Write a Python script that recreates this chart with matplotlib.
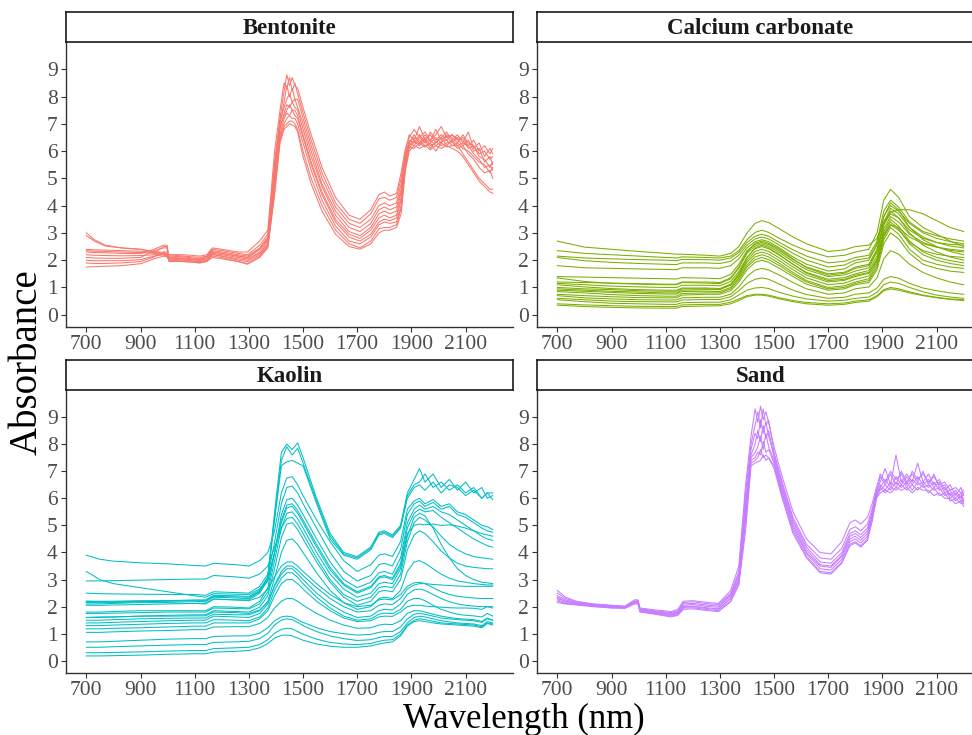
import numpy as np
import matplotlib
matplotlib.use("Agg")
import matplotlib.pyplot as plt

plt.rcParams['font.family'] = ['Liberation Serif', 'DejaVu Serif']

panels = ["Bentonite", "Calcium carbonate", "Kaolin", "Sand"]
colors = ["#F8766D", "#7CAE00", "#00BFC4", "#C77CFF"]
x_ticks = [700, 900, 1100, 1300, 1500, 1700, 1900, 2100]
y_ticks = [0, 1, 2, 3, 4, 5, 6, 7, 8, 9]

# Bentonite et Sand : une ligne par longueur d'onde, une colonne par spectre
wl_bent = [700, 730, 770, 830, 900, 950, 985, 998, 1005, 1060,
           1120, 1145, 1165, 1200, 1260, 1295, 1340, 1370, 1395, 1415,
           1430, 1440, 1450, 1460, 1470, 1480, 1500, 1530, 1570, 1620,
           1670, 1710, 1750, 1780, 1800, 1820, 1845, 1862, 1878, 1892,
           1910, 1930, 1950, 1970, 1990, 2010, 2030, 2050, 2070, 2090,
           2110, 2130, 2150, 2170, 2190, 2200]

bent_abs = [
    [3.0, 2.9, 2.4, 2.35, 2.3, 2.2, 2.1, 2.0, 1.9, 1.75],      # 700
    [2.75, 2.7, 2.38, 2.33, 2.28, 2.18, 2.08, 1.98, 1.88, 1.76],
    [2.55, 2.52, 2.37, 2.32, 2.27, 2.17, 2.07, 1.98, 1.88, 1.78],
    [2.45, 2.45, 2.35, 2.3, 2.25, 2.16, 2.07, 1.98, 1.9, 1.8],
    [2.4, 2.4, 2.33, 2.28, 2.24, 2.17, 2.1, 2.02, 1.95, 1.87],  # 900
    [2.3, 2.32, 2.28, 2.25, 2.4, 2.2, 2.35, 2.15, 2.12, 2.05],
    [2.25, 2.28, 2.5, 2.22, 2.55, 2.2, 2.45, 2.2, 2.3, 2.15],
    [2.22, 2.25, 2.5, 2.2, 2.55, 2.18, 2.45, 2.15, 2.3, 2.12],
    [2.2, 2.2, 2.05, 2.15, 2.1, 2.1, 2.0, 2.05, 1.95, 2.0],
    [2.15, 2.2, 2.05, 2.12, 2.05, 2.08, 2.0, 2.0, 1.95, 1.95],
    [2.1, 2.15, 2.0, 2.05, 2.0, 2.02, 1.95, 1.95, 1.9, 1.9],    # 1120
    [2.15, 2.2, 2.1, 2.15, 2.05, 2.1, 2.0, 2.0, 1.98, 1.95],
    [2.35, 2.45, 2.3, 2.4, 2.25, 2.3, 2.2, 2.22, 2.15, 2.1],
    [2.3, 2.4, 2.25, 2.35, 2.2, 2.25, 2.15, 2.15, 2.1, 2.05],
    [2.2, 2.3, 2.15, 2.25, 2.1, 2.15, 2.05, 2.0, 1.95, 1.95],
    [2.15, 2.3, 2.1, 2.2, 2.05, 2.1, 2.0, 1.95, 1.88, 1.85],
    [2.45, 2.7, 2.4, 2.55, 2.3, 2.4, 2.25, 2.2, 2.15, 2.1],
    [2.85, 3.1, 2.8, 2.95, 2.7, 2.75, 2.6, 2.55, 2.5, 2.45],
    [5.6, 6.0, 5.3, 5.5, 5.0, 5.1, 4.8, 4.6, 4.5, 4.4],
    [7.2, 7.5, 7.0, 7.1, 6.8, 6.9, 6.6, 6.5, 6.4, 6.3],        # 1415
    [8.2, 8.5, 7.8, 7.6, 7.4, 7.3, 7.2, 7.0, 6.9, 6.8],
    [8.8, 8.3, 8.4, 7.9, 7.7, 7.5, 7.4, 7.2, 7.0, 6.9],
    [8.4, 8.7, 8.0, 8.1, 7.6, 7.7, 7.3, 7.3, 7.1, 7.0],
    [8.7, 8.2, 8.3, 7.8, 7.8, 7.5, 7.5, 7.2, 7.1, 6.95],
    [8.4, 8.5, 7.9, 7.9, 7.6, 7.5, 7.3, 7.2, 7.0, 6.9],
    [8.3, 8.1, 7.9, 7.6, 7.5, 7.3, 7.2, 7.0, 6.8, 6.7],
    [7.6, 7.4, 7.2, 7.0, 6.8, 6.6, 6.5, 6.3, 6.0, 5.8],        # 1500
    [6.6, 6.4, 6.2, 6.0, 5.8, 5.6, 5.5, 5.3, 5.0, 4.8],
    [5.4, 5.2, 5.0, 4.8, 4.7, 4.5, 4.4, 4.2, 4.0, 3.8],
    [4.3, 4.1, 3.95, 3.8, 3.65, 3.5, 3.4, 3.25, 3.1, 2.95],
    [3.65, 3.5, 3.35, 3.2, 3.05, 2.95, 2.85, 2.7, 2.6, 2.5],
    [3.5, 3.35, 3.2, 3.05, 2.9, 2.8, 2.7, 2.6, 2.45, 2.4],     # 1710
    [3.85, 3.7, 3.5, 3.35, 3.2, 3.1, 2.95, 2.85, 2.7, 2.6],
    [4.4, 4.25, 4.0, 3.85, 3.7, 3.55, 3.4, 3.3, 3.15, 3.0],
    [4.5, 4.3, 4.1, 3.95, 3.8, 3.65, 3.5, 3.4, 3.2, 3.1],
    [4.35, 4.2, 4.0, 3.85, 3.7, 3.55, 3.45, 3.35, 3.2, 3.1],
    [4.45, 4.3, 4.1, 3.95, 3.8, 3.65, 3.55, 3.4, 3.3, 3.2],
    [5.2, 5.0, 4.8, 4.6, 4.5, 4.3, 4.2, 4.0, 3.9, 3.7],
    [6.1, 6.0, 5.9, 5.8, 5.8, 5.7, 5.6, 5.5, 5.4, 5.3],
    [6.5, 6.6, 6.3, 6.4, 6.3, 6.2, 6.3, 6.1, 6.15, 6.0],
    [6.8, 6.4, 6.6, 6.3, 6.5, 6.4, 6.2, 6.35, 6.1, 6.2],       # 1910
    [6.5, 6.9, 6.3, 6.6, 6.4, 6.25, 6.5, 6.2, 6.3, 6.1],
    [6.7, 6.4, 6.6, 6.3, 6.2, 6.5, 6.3, 6.4, 6.15, 6.2],
    [6.4, 6.6, 6.35, 6.7, 6.3, 6.2, 6.4, 6.1, 6.3, 6.05],
    [6.6, 6.3, 6.8, 6.4, 6.5, 6.3, 6.2, 6.35, 6.0, 6.2],
    [6.9, 6.5, 6.4, 6.6, 6.3, 6.5, 6.35, 6.2, 6.3, 6.1],
    [6.5, 6.7, 6.6, 6.4, 6.55, 6.2, 6.4, 6.3, 6.15, 6.2],
    [6.6, 6.4, 6.5, 6.6, 6.3, 6.4, 6.2, 6.35, 6.2, 6.1],
    [6.4, 6.6, 6.3, 6.45, 6.5, 6.2, 6.3, 6.1, 6.2, 6.0],
    [6.5, 6.3, 6.6, 6.2, 6.4, 6.3, 6.1, 6.2, 5.9, 5.8],
    [6.2, 6.7, 6.3, 6.4, 6.1, 6.2, 6.0, 5.9, 5.6, 5.5],        # 2110
    [6.4, 6.1, 6.2, 6.0, 6.2, 5.9, 5.8, 5.7, 5.3, 5.2],
    [6.0, 6.3, 5.9, 6.1, 5.8, 5.7, 5.6, 5.4, 5.0, 4.9],
    [6.2, 5.8, 6.0, 5.6, 5.7, 5.4, 5.5, 5.2, 4.8, 4.7],
    [5.9, 6.1, 5.7, 5.8, 5.4, 5.5, 5.2, 5.3, 4.6, 4.5],
    [6.1, 5.9, 5.8, 5.5, 5.6, 5.3, 5.4, 5.0, 4.6, 4.45],       # 2200
]

sand_abs = [
    [2.6, 2.5, 2.4, 2.35, 2.3, 2.25, 2.2, 2.15],     # 700
    [2.35, 2.3, 2.25, 2.2, 2.2, 2.15, 2.12, 2.1],
    [2.2, 2.18, 2.15, 2.12, 2.12, 2.1, 2.08, 2.06],
    [2.1, 2.1, 2.08, 2.06, 2.05, 2.04, 2.02, 2.0],
    [2.05, 2.04, 2.02, 2.0, 2.0, 1.98, 1.96, 1.95],
    [2.02, 2.0, 2.0, 1.98, 1.98, 1.96, 1.95, 1.94],
    [2.25, 2.2, 2.2, 2.18, 2.15, 2.15, 2.12, 2.1],
    [2.25, 2.22, 2.2, 2.18, 2.16, 2.14, 2.12, 2.1],
    [1.95, 1.92, 1.9, 1.88, 1.86, 1.85, 1.82, 1.8],
    [1.88, 1.85, 1.82, 1.8, 1.78, 1.76, 1.74, 1.72],
    [1.82, 1.78, 1.75, 1.72, 1.7, 1.68, 1.65, 1.62],  # 1120
    [1.9, 1.85, 1.82, 1.8, 1.76, 1.74, 1.7, 1.68],
    [2.2, 2.15, 2.1, 2.05, 2.0, 1.98, 1.95, 1.9],
    [2.22, 2.18, 2.12, 2.08, 2.02, 2.0, 1.96, 1.92],
    [2.15, 2.1, 2.05, 2.0, 1.95, 1.92, 1.88, 1.85],
    [2.12, 2.08, 2.02, 1.98, 1.92, 1.9, 1.85, 1.82],
    [2.6, 2.5, 2.45, 2.4, 2.32, 2.3, 2.22, 2.18],
    [3.5, 3.3, 3.2, 3.1, 3.0, 2.95, 2.85, 2.8],
    [6.5, 6.2, 5.9, 5.7, 5.5, 5.3, 5.1, 4.8],
    [8.3, 8.0, 7.8, 7.6, 7.5, 7.4, 7.3, 7.2],        # 1415
    [9.3, 8.7, 8.4, 8.0, 7.7, 7.5, 7.4, 7.3],
    [8.8, 9.2, 8.2, 8.5, 7.9, 7.7, 7.5, 7.35],
    [9.4, 8.6, 8.9, 8.1, 8.3, 7.6, 7.8, 7.4],
    [8.9, 9.3, 8.4, 8.7, 7.8, 8.1, 7.5, 7.6],
    [9.2, 8.7, 8.8, 8.2, 8.4, 7.7, 7.6, 7.4],
    [8.8, 8.9, 8.3, 8.5, 7.9, 7.8, 7.5, 7.5],
    [7.9, 7.7, 7.6, 7.5, 7.4, 7.3, 7.2, 7.1],        # 1500
    [6.8, 6.6, 6.5, 6.4, 6.3, 6.2, 6.1, 6.0],
    [5.5, 5.3, 5.2, 5.1, 5.0, 4.9, 4.8, 4.7],
    [4.5, 4.3, 4.2, 4.1, 4.0, 3.95, 3.85, 3.8],
    [4.0, 3.8, 3.65, 3.55, 3.5, 3.4, 3.3, 3.25],
    [3.95, 3.75, 3.6, 3.5, 3.45, 3.35, 3.25, 3.2],   # 1710
    [4.4, 4.15, 4.0, 3.9, 3.85, 3.75, 3.65, 3.6],
    [5.1, 4.85, 4.7, 4.6, 4.5, 4.4, 4.3, 4.25],
    [5.2, 4.95, 4.8, 4.7, 4.6, 4.5, 4.4, 4.35],
    [5.05, 4.8, 4.65, 4.55, 4.45, 4.35, 4.25, 4.2],
    [5.3, 5.05, 4.9, 4.8, 4.7, 4.6, 4.5, 4.45],
    [5.8, 5.6, 5.5, 5.4, 5.35, 5.3, 5.2, 5.15],
    [6.4, 6.3, 6.2, 6.2, 6.1, 6.1, 6.0, 6.0],
    [6.9, 6.6, 6.8, 6.4, 6.5, 6.3, 6.4, 6.2],
    [6.6, 7.1, 6.5, 6.7, 6.3, 6.5, 6.2, 6.3],        # 1910
    [7.0, 6.5, 6.9, 6.4, 6.6, 6.3, 6.4, 6.2],
    [6.7, 7.6, 6.5, 6.8, 6.4, 6.6, 6.3, 6.4],
    [6.9, 6.6, 7.0, 6.5, 6.7, 6.4, 6.5, 6.3],
    [6.5, 6.9, 6.6, 6.8, 6.4, 6.6, 6.3, 6.4],
    [7.0, 6.6, 6.9, 6.5, 6.7, 6.3, 6.5, 6.2],
    [6.7, 7.3, 6.6, 6.8, 6.5, 6.6, 6.3, 6.4],
    [6.9, 6.6, 7.0, 6.5, 6.6, 6.4, 6.5, 6.3],
    [6.6, 6.9, 6.5, 6.7, 6.4, 6.5, 6.2, 6.3],
    [6.8, 6.5, 6.9, 6.4, 6.6, 6.3, 6.4, 6.1],
    [6.5, 6.7, 6.4, 6.6, 6.3, 6.4, 6.1, 6.2],        # 2110
    [6.6, 6.3, 6.5, 6.2, 6.4, 6.1, 6.2, 6.0],
    [6.3, 6.5, 6.1, 6.3, 6.0, 6.2, 5.9, 6.0],
    [6.4, 6.1, 6.3, 6.0, 6.2, 5.9, 6.0, 5.8],
    [6.2, 6.4, 6.0, 6.2, 5.9, 6.1, 5.8, 5.9],
    [6.3, 6.1, 6.2, 5.9, 6.0, 5.8, 5.9, 5.7],        # 2200
]

# Calcium carbonate : une ligne par spectre
wl_caco = [700, 800, 900, 1000, 1100, 1140, 1160, 1250, 1300, 1340,
           1370, 1400, 1430, 1455, 1480, 1520, 1570, 1620, 1700, 1760,
           1800, 1850, 1880, 1905, 1930, 1960, 2000, 2050, 2100, 2150,
           2200]

caco_abs = [
    [2.70, 2.48, 2.40, 2.32, 2.25, 2.22, 2.22, 2.18, 2.15, 2.25, 2.50, 3.00, 3.35, 3.45, 3.38, 3.15, 2.85, 2.60, 2.32, 2.38, 2.50, 2.55, 2.80, 3.40, 3.75, 3.85, 3.85, 3.70, 3.45, 3.20, 3.05],
    [2.35, 2.25, 2.20, 2.15, 2.10, 2.08, 2.12, 2.10, 2.08, 2.15, 2.35, 2.75, 3.02, 3.10, 3.02, 2.80, 2.55, 2.35, 2.12, 2.18, 2.30, 2.40, 3.00, 4.20, 4.60, 4.30, 3.60, 3.20, 2.95, 2.70, 2.50],
    [2.15, 2.08, 2.05, 2.02, 2.00, 1.98, 2.03, 2.02, 2.00, 2.08, 2.28, 2.65, 2.88, 2.95, 2.88, 2.65, 2.38, 2.15, 1.90, 1.96, 2.10, 2.18, 2.70, 3.80, 4.20, 3.95, 3.40, 3.05, 2.90, 2.78, 2.70],
    [2.10, 1.98, 1.92, 1.88, 1.85, 1.84, 1.90, 1.90, 1.88, 1.96, 2.18, 2.55, 2.78, 2.85, 2.78, 2.55, 2.25, 2.00, 1.75, 1.82, 2.00, 2.08, 2.60, 3.60, 4.00, 3.80, 3.35, 3.00, 2.80, 2.68, 2.60],
    [1.80, 1.72, 1.70, 1.68, 1.66, 1.65, 1.72, 1.72, 1.70, 1.80, 2.05, 2.45, 2.68, 2.75, 2.68, 2.45, 2.12, 1.85, 1.60, 1.68, 1.90, 2.00, 2.55, 3.60, 4.10, 3.85, 3.20, 2.75, 2.50, 2.32, 2.20],
    [1.40, 1.38, 1.36, 1.34, 1.32, 1.31, 1.36, 1.34, 1.32, 1.48, 1.85, 2.35, 2.58, 2.65, 2.58, 2.35, 2.02, 1.75, 1.50, 1.56, 1.75, 1.85, 2.40, 3.40, 3.90, 3.70, 3.20, 2.85, 2.65, 2.52, 2.45],
    [1.35, 1.22, 1.15, 1.12, 1.10, 1.10, 1.18, 1.16, 1.14, 1.32, 1.70, 2.25, 2.52, 2.60, 2.52, 2.28, 1.95, 1.65, 1.40, 1.46, 1.60, 1.72, 2.30, 3.30, 3.80, 3.55, 3.00, 2.55, 2.30, 2.12, 2.00],
    [1.20, 1.18, 1.16, 1.14, 1.12, 1.12, 1.20, 1.20, 1.18, 1.36, 1.75, 2.30, 2.62, 2.70, 2.62, 2.40, 2.05, 1.72, 1.45, 1.52, 1.70, 1.80, 2.35, 3.30, 3.70, 3.55, 3.10, 2.80, 2.65, 2.58, 2.55],
    [1.15, 1.10, 1.05, 1.02, 1.00, 1.00, 1.08, 1.08, 1.06, 1.22, 1.58, 2.10, 2.42, 2.50, 2.42, 2.18, 1.85, 1.55, 1.30, 1.36, 1.50, 1.62, 2.15, 3.15, 3.60, 3.40, 2.95, 2.65, 2.48, 2.36, 2.30],
    [1.10, 1.02, 0.96, 0.92, 0.90, 0.90, 0.98, 0.98, 0.96, 1.12, 1.48, 2.00, 2.32, 2.40, 2.32, 2.08, 1.75, 1.45, 1.20, 1.26, 1.40, 1.52, 2.05, 3.05, 3.50, 3.25, 2.70, 2.30, 2.10, 1.98, 1.90],
    [1.00, 0.95, 0.92, 0.88, 0.86, 0.86, 0.95, 0.95, 0.93, 1.08, 1.42, 1.92, 2.22, 2.30, 2.22, 1.98, 1.65, 1.35, 1.10, 1.16, 1.30, 1.42, 1.95, 2.95, 3.40, 3.15, 2.60, 2.20, 2.00, 1.88, 1.80],
    [0.95, 0.90, 0.86, 0.83, 0.80, 0.80, 0.90, 0.92, 0.92, 1.10, 1.50, 2.10, 2.45, 2.55, 2.46, 2.20, 1.85, 1.52, 1.25, 1.30, 1.45, 1.55, 2.00, 2.90, 3.30, 3.20, 2.85, 2.60, 2.48, 2.40, 2.35],
    [0.90, 0.86, 0.82, 0.78, 0.76, 0.76, 0.85, 0.86, 0.85, 1.00, 1.35, 1.82, 2.12, 2.20, 2.12, 1.88, 1.55, 1.25, 1.00, 1.06, 1.20, 1.32, 1.85, 2.85, 3.30, 3.10, 2.65, 2.35, 2.22, 2.14, 2.10],
    [0.85, 0.80, 0.74, 0.70, 0.68, 0.68, 0.78, 0.80, 0.80, 0.95, 1.28, 1.75, 2.02, 2.10, 2.02, 1.80, 1.48, 1.20, 0.95, 1.00, 1.15, 1.25, 1.75, 2.75, 3.20, 2.95, 2.40, 2.00, 1.85, 1.75, 1.70],
    [0.75, 0.70, 0.66, 0.63, 0.62, 0.62, 0.72, 0.75, 0.75, 0.88, 1.20, 1.65, 1.92, 2.00, 1.92, 1.70, 1.40, 1.12, 0.90, 0.95, 1.10, 1.18, 1.65, 2.60, 3.00, 2.78, 2.25, 1.85, 1.70, 1.60, 1.55],
    [0.70, 0.62, 0.58, 0.55, 0.54, 0.54, 0.62, 0.64, 0.64, 0.75, 1.02, 1.40, 1.64, 1.70, 1.64, 1.45, 1.18, 0.95, 0.75, 0.80, 0.95, 1.02, 1.35, 2.05, 2.35, 2.22, 1.85, 1.55, 1.35, 1.20, 1.10],
    [0.60, 0.55, 0.50, 0.48, 0.47, 0.47, 0.54, 0.56, 0.56, 0.66, 0.88, 1.15, 1.30, 1.35, 1.30, 1.12, 0.90, 0.74, 0.60, 0.64, 0.75, 0.80, 0.98, 1.30, 1.40, 1.34, 1.15, 0.98, 0.88, 0.80, 0.75],
    [0.55, 0.48, 0.42, 0.40, 0.38, 0.38, 0.44, 0.46, 0.46, 0.55, 0.72, 0.90, 0.98, 1.00, 0.96, 0.82, 0.68, 0.58, 0.50, 0.53, 0.60, 0.65, 0.82, 1.10, 1.20, 1.15, 1.00, 0.84, 0.72, 0.65, 0.60],
    [0.40, 0.36, 0.33, 0.31, 0.30, 0.30, 0.36, 0.38, 0.38, 0.46, 0.58, 0.70, 0.75, 0.75, 0.72, 0.62, 0.52, 0.45, 0.40, 0.43, 0.50, 0.55, 0.70, 0.92, 1.00, 0.95, 0.84, 0.72, 0.64, 0.58, 0.55],
    [0.35, 0.30, 0.27, 0.25, 0.24, 0.24, 0.30, 0.32, 0.33, 0.40, 0.52, 0.66, 0.72, 0.72, 0.68, 0.58, 0.48, 0.40, 0.35, 0.38, 0.45, 0.50, 0.66, 0.88, 0.95, 0.90, 0.80, 0.70, 0.62, 0.56, 0.52],
]

# Kaolin : une ligne par spectre
wl_kao = [700, 750, 800, 900, 1000, 1100, 1140, 1170, 1250, 1300,
          1340, 1370, 1395, 1420, 1440, 1460, 1480, 1500, 1550, 1600,
          1650, 1700, 1750, 1780, 1800, 1830, 1860, 1885, 1910, 1930,
          1950, 1980, 2010, 2040, 2070, 2100, 2130, 2160, 2180, 2200]

kao_abs = [
    [2.20, 2.20, 2.20, 2.22, 2.22, 2.20, 2.18, 2.35, 2.32, 2.30, 2.55, 3.10, 5.50, 7.70, 8.00, 7.80, 8.05, 7.50, 6.00, 4.70, 4.00, 3.85, 4.20, 4.75, 4.80, 4.65, 5.00, 6.20, 6.70, 7.10, 6.60, 6.90, 6.40, 6.70, 6.30, 6.60, 6.20, 6.40, 6.00, 6.10],
    [2.10, 2.10, 2.12, 2.15, 2.15, 2.12, 2.10, 2.28, 2.25, 2.25, 2.50, 3.00, 5.30, 7.40, 7.90, 7.60, 7.85, 7.30, 5.90, 4.60, 3.95, 3.80, 4.15, 4.70, 4.75, 4.60, 4.95, 6.10, 6.50, 6.60, 6.90, 6.40, 6.60, 6.30, 6.50, 6.20, 6.40, 6.00, 6.20, 5.95],
    [2.50, 2.48, 2.47, 2.46, 2.45, 2.45, 2.42, 2.55, 2.52, 2.50, 2.75, 3.20, 5.20, 7.20, 7.35, 7.40, 7.30, 7.20, 5.80, 4.50, 3.90, 3.75, 4.10, 4.65, 4.70, 4.55, 4.90, 6.00, 6.40, 6.50, 6.30, 6.60, 6.20, 6.50, 6.40, 6.10, 6.30, 6.00, 6.20, 6.20],
    [3.90, 3.75, 3.68, 3.62, 3.58, 3.52, 3.50, 3.60, 3.55, 3.50, 3.70, 4.00, 4.80, 6.20, 6.75, 6.80, 6.50, 6.10, 5.20, 4.40, 3.70, 3.30, 3.55, 3.90, 3.95, 3.85, 4.40, 5.60, 5.90, 6.00, 5.80, 5.95, 5.70, 5.80, 5.50, 5.40, 5.20, 5.00, 4.95, 4.85],
    [2.20, 2.18, 2.18, 2.20, 2.22, 2.25, 2.25, 2.42, 2.40, 2.38, 2.60, 3.10, 4.40, 5.80, 6.40, 6.45, 6.20, 5.80, 4.90, 4.00, 3.30, 2.95, 3.15, 3.55, 3.60, 3.50, 4.10, 5.40, 5.80, 5.90, 5.70, 5.85, 5.60, 5.70, 5.40, 5.30, 5.10, 4.90, 4.80, 4.75],
    [1.80, 1.80, 1.82, 1.85, 1.85, 1.85, 1.85, 2.00, 1.98, 1.95, 2.20, 2.70, 4.00, 5.40, 5.95, 6.00, 5.75, 5.40, 4.50, 3.65, 3.00, 2.70, 2.90, 3.25, 3.30, 3.20, 3.80, 5.10, 5.60, 5.75, 5.60, 5.70, 5.50, 5.40, 5.20, 5.00, 4.80, 4.60, 4.50, 4.45],
    [2.15, 2.15, 2.15, 2.18, 2.20, 2.22, 2.22, 2.38, 2.36, 2.35, 2.55, 2.95, 4.00, 5.20, 5.75, 5.80, 5.55, 5.20, 4.30, 3.45, 2.85, 2.55, 2.75, 3.10, 3.15, 3.05, 3.60, 4.90, 5.45, 5.60, 5.50, 5.55, 5.30, 5.10, 4.90, 4.70, 4.50, 4.35, 4.25, 4.20],
    [3.30, 3.00, 2.85, 2.70, 2.55, 2.40, 2.35, 2.48, 2.46, 2.45, 2.65, 3.05, 4.00, 5.10, 5.65, 5.70, 5.45, 5.10, 4.20, 3.35, 2.80, 2.50, 2.70, 3.05, 3.10, 3.00, 3.50, 4.70, 5.00, 5.05, 5.02, 5.05, 5.00, 5.02, 4.98, 4.90, 4.80, 4.70, 4.65, 4.60],
    [1.75, 1.75, 1.76, 1.78, 1.80, 1.80, 1.80, 1.95, 1.93, 1.92, 2.10, 2.55, 3.70, 4.90, 5.45, 5.50, 5.25, 4.90, 4.00, 3.20, 2.65, 2.35, 2.50, 2.85, 2.90, 2.85, 3.40, 4.60, 5.30, 5.45, 5.35, 4.90, 4.30, 3.80, 3.40, 3.15, 3.00, 2.90, 2.88, 2.85],
    [2.95, 2.95, 2.96, 2.98, 3.00, 3.02, 3.02, 3.15, 3.10, 3.05, 3.20, 3.50, 4.20, 4.90, 5.25, 5.30, 5.05, 4.70, 3.80, 3.00, 2.45, 2.20, 2.35, 2.70, 2.75, 2.70, 3.20, 4.40, 5.10, 5.30, 5.20, 4.95, 4.60, 4.30, 4.10, 3.95, 3.85, 3.80, 3.78, 3.75],
    [1.60, 1.60, 1.62, 1.65, 1.68, 1.70, 1.70, 1.85, 1.82, 1.80, 1.98, 2.40, 3.40, 4.55, 5.05, 5.10, 4.85, 4.50, 3.65, 2.90, 2.35, 2.05, 2.20, 2.55, 2.60, 2.55, 3.00, 4.10, 4.65, 4.80, 4.70, 4.40, 4.05, 3.80, 3.60, 3.50, 3.45, 3.42, 3.40, 3.40],
    [1.50, 1.50, 1.52, 1.55, 1.57, 1.58, 1.58, 1.72, 1.70, 1.70, 1.85, 2.20, 3.05, 4.00, 4.45, 4.50, 4.30, 4.00, 3.25, 2.60, 2.15, 1.90, 2.00, 2.30, 2.35, 2.30, 2.60, 3.30, 3.65, 3.70, 3.60, 3.40, 3.20, 3.05, 2.95, 2.90, 2.85, 2.82, 2.80, 2.80],
    [2.05, 2.05, 2.06, 2.08, 2.10, 2.12, 2.12, 2.28, 2.25, 2.22, 2.35, 2.65, 3.10, 3.50, 3.65, 3.65, 3.50, 3.30, 2.85, 2.45, 2.15, 2.00, 2.05, 2.25, 2.28, 2.25, 2.45, 2.75, 2.88, 2.90, 2.85, 2.70, 2.55, 2.45, 2.38, 2.35, 2.32, 2.30, 2.30, 2.30],
    [1.40, 1.40, 1.42, 1.45, 1.48, 1.50, 1.50, 1.65, 1.62, 1.60, 1.75, 2.10, 2.80, 3.30, 3.50, 3.50, 3.35, 3.15, 2.70, 2.30, 2.00, 1.80, 1.85, 2.05, 2.10, 2.08, 2.30, 2.65, 2.80, 2.85, 2.85, 2.82, 2.80, 2.78, 2.76, 2.75, 2.75, 2.75, 2.75, 2.75],
    [1.60, 1.62, 1.62, 1.65, 1.65, 1.66, 1.66, 1.80, 1.78, 1.75, 1.88, 2.15, 2.75, 3.20, 3.40, 3.40, 3.22, 3.00, 2.50, 2.10, 1.80, 1.60, 1.65, 1.85, 1.90, 1.88, 2.10, 2.45, 2.62, 2.65, 2.60, 2.45, 2.30, 2.18, 2.10, 2.05, 2.02, 2.00, 2.00, 2.00],
    [1.30, 1.30, 1.32, 1.35, 1.38, 1.40, 1.40, 1.52, 1.50, 1.48, 1.62, 1.95, 2.60, 3.05, 3.25, 3.25, 3.08, 2.85, 2.35, 1.95, 1.65, 1.50, 1.55, 1.72, 1.76, 1.74, 1.90, 2.20, 2.30, 2.30, 2.22, 2.05, 1.90, 1.80, 1.72, 1.68, 1.66, 1.62, 1.75, 1.65],
    [1.18, 1.18, 1.20, 1.22, 1.25, 1.28, 1.28, 1.40, 1.40, 1.40, 1.55, 1.85, 2.40, 2.85, 3.00, 3.00, 2.85, 2.65, 2.20, 1.85, 1.58, 1.45, 1.48, 1.62, 1.65, 1.64, 1.80, 2.00, 2.05, 2.05, 2.02, 2.00, 1.98, 1.96, 1.95, 1.95, 1.94, 1.90, 2.00, 1.95],
    [1.05, 1.05, 1.07, 1.10, 1.12, 1.15, 1.15, 1.25, 1.26, 1.26, 1.38, 1.60, 1.95, 2.20, 2.30, 2.30, 2.20, 2.05, 1.75, 1.50, 1.32, 1.20, 1.22, 1.32, 1.35, 1.34, 1.48, 1.75, 1.85, 1.85, 1.80, 1.72, 1.65, 1.60, 1.56, 1.54, 1.52, 1.45, 1.58, 1.50],
    [0.70, 0.70, 0.72, 0.76, 0.80, 0.82, 0.82, 0.90, 0.92, 0.92, 1.02, 1.22, 1.48, 1.62, 1.65, 1.62, 1.52, 1.42, 1.22, 1.08, 1.00, 0.95, 0.98, 1.05, 1.08, 1.08, 1.25, 1.55, 1.72, 1.75, 1.72, 1.65, 1.58, 1.55, 1.52, 1.50, 1.48, 1.42, 1.55, 1.50],
    [0.50, 0.50, 0.52, 0.55, 0.58, 0.60, 0.60, 0.68, 0.70, 0.72, 0.82, 1.02, 1.32, 1.50, 1.55, 1.52, 1.42, 1.30, 1.08, 0.92, 0.82, 0.75, 0.78, 0.86, 0.90, 0.90, 1.08, 1.40, 1.60, 1.65, 1.62, 1.55, 1.48, 1.44, 1.40, 1.38, 1.36, 1.30, 1.45, 1.40],
    [0.30, 0.30, 0.31, 0.33, 0.36, 0.38, 0.38, 0.45, 0.48, 0.50, 0.60, 0.78, 1.02, 1.16, 1.20, 1.18, 1.08, 0.98, 0.80, 0.68, 0.62, 0.60, 0.64, 0.72, 0.76, 0.78, 0.98, 1.32, 1.50, 1.55, 1.52, 1.46, 1.40, 1.38, 1.36, 1.34, 1.32, 1.26, 1.40, 1.36],
    [0.18, 0.18, 0.19, 0.21, 0.24, 0.26, 0.26, 0.32, 0.35, 0.38, 0.48, 0.64, 0.84, 0.94, 0.95, 0.92, 0.84, 0.76, 0.62, 0.54, 0.50, 0.50, 0.55, 0.62, 0.66, 0.70, 0.92, 1.28, 1.45, 1.48, 1.45, 1.40, 1.36, 1.34, 1.32, 1.30, 1.28, 1.22, 1.38, 1.32],
]

# (x, y_bas, largeur, hauteur) en pixels de la figure 972x735
W, H = 972.0, 735.0
boxes = [(66, 327, 447, 285), (537, 327, 447, 285),
         (66, 673, 447, 283), (537, 673, 447, 283)]
series = [(wl_bent, np.array(bent_abs)),
          (wl_caco, np.array(caco_abs).T),
          (wl_kao, np.array(kao_abs).T),
          (wl_bent, np.array(sand_abs))]

fig = plt.figure(figsize=(9.72, 7.35), dpi=100)

for i in range(4):
    x0, yb, w, h = boxes[i]
    ax = fig.add_axes([x0 / W, 1 - yb / H, w / W, h / H])
    wl, vals = series[i]
    ax.plot(wl, vals, color=colors[i], lw=0.75)

    ax.set_xlim(625, 2275)
    ax.set_ylim(-0.45, 10.0)
    ax.set_xticks(x_ticks)
    ax.set_yticks(y_ticks)
    for s in ["top", "right"]:
        ax.spines[s].set_visible(False)
    for s in ["left", "bottom"]:
        ax.spines[s].set_color("#333333")
        ax.spines[s].set_linewidth(1.0)
    ax.tick_params(colors="#333333", labelcolor="#4D4D4D", labelsize=15.5,
                   length=3.5, width=0.8, pad=2.5)

    # bandeau du panneau
    sax = fig.add_axes([x0 / W, 1 - (yb - h) / H, w / W, 30 / H])
    sax.set_xticks([])
    sax.set_yticks([])
    for s in sax.spines.values():
        s.set_color("#1a1a1a")
        s.set_linewidth(1.2)
    sax.text(0.5, 0.45, panels[i], ha="center", va="center",
             fontsize=16.5, fontweight="bold", color="#1a1a1a",
             transform=sax.transAxes)

fig.text(27 / W, 1 - 362 / H, "Absorbance", rotation=90, ha="center",
         va="center", fontsize=28)
fig.text(524 / W, 1 - 727.5 / H, "Wavelength (nm)", ha="center",
         va="baseline", fontsize=25)

fig.savefig("out.png", dpi=100)
